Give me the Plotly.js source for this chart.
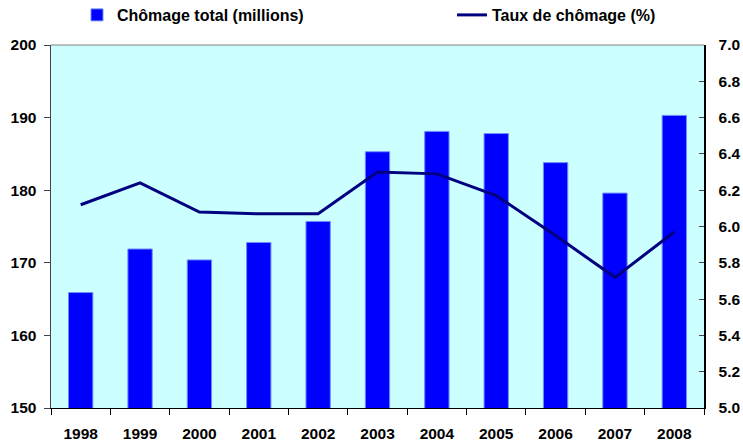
<!DOCTYPE html>
<html>
<head>
<meta charset="utf-8">
<script src="https://cdn.plot.ly/plotly-3.0.1.min.js"></script>
<style>html,body{margin:0;padding:0;background:#fff;}#chart{width:743px;height:446px;}</style>
</head>
<body>
<div id="chart"></div>
<script>
var years = ['1998','1999','2000','2001','2002','2003','2004','2005','2006','2007','2008'];
var chomageTotal = [165.9, 171.9, 170.4, 172.8, 175.7, 185.3, 188.1, 187.8, 183.8, 179.6, 190.3];
var tauxChomage = [6.12, 6.24, 6.08, 6.07, 6.07, 6.30, 6.29, 6.17, 5.95, 5.72, 5.97];
var leftTicks = [150, 160, 170, 180, 190, 200];
var rightTicks = [5.0, 5.2, 5.4, 5.6, 5.8, 6.0, 6.2, 6.4, 6.6, 6.8, 7.0];

var tickFont = {family: 'Liberation Sans, Arial, sans-serif', size: 15.5, color: '#000', weight: 700};
var legFont = {family: 'Liberation Sans, Arial, sans-serif', size: 16, color: '#000', weight: 700};

var traces = [
  {
    type: 'bar', name: 'Chômage total (millions)', x: years, y: chomageTotal,
    marker: {color: '#0000FF', line: {color: '#6F8CFF', width: 1}},
    width: 0.41, yaxis: 'y', legend: 'legend'
  },
  {
    type: 'scatter', mode: 'lines', name: 'Taux de chômage (%)', x: years, y: tauxChomage,
    line: {color: '#000080', width: 3}, yaxis: 'y2', legend: 'legend2'
  }
];

var layout = {
  width: 743, height: 446,
  margin: {l: 51, r: 39, t: 45, b: 38},
  paper_bgcolor: '#FFFFFF', plot_bgcolor: '#CCFFFF',
  showlegend: true,
  legend: {x: 77/743, xref: 'container', y: 1 - 15/446, yref: 'container', xanchor: 'left', yanchor: 'middle',
           orientation: 'h', font: legFont, bgcolor: 'rgba(0,0,0,0)'},
  legend2: {x: 452/743, xref: 'container', y: 1 - 15/446, yref: 'container', xanchor: 'left', yanchor: 'middle',
           orientation: 'h', font: legFont, bgcolor: 'rgba(0,0,0,0)'},
  xaxis: {
    type: 'category', tickfont: tickFont, showline: true, linecolor: '#000', linewidth: 1,
    ticks: 'outside', tickson: 'boundaries', ticklen: 6, tickcolor: '#000',
    showgrid: false, zeroline: false, ticklabelstandoff: 11
  },
  yaxis: {
    range: [150, 200], tickvals: leftTicks, ticktext: leftTicks.map(String),
    tickfont: tickFont, showline: true, linecolor: '#444', linewidth: 1.5,
    ticks: 'outside', ticklen: 6, tickcolor: '#444', showgrid: false, zeroline: false,
    ticklabelstandoff: 4
  },
  yaxis2: {
    range: [5, 7], overlaying: 'y', side: 'right', tickvals: rightTicks,
    ticktext: rightTicks.map(function(v){return v.toFixed(1);}),
    tickfont: tickFont, showline: true, linecolor: '#000', linewidth: 1.5,
    ticks: 'inside', ticklen: 5, tickcolor: '#444', showgrid: false, zeroline: false,
    ticklabelstandoff: 10
  },
  shapes: [
    {type: 'line', xref: 'paper', yref: 'paper', x0: 0, x1: 1, y0: 1, y1: 1, line: {color: '#808080', width: 1}}
  ]
};

Plotly.newPlot('chart', traces, layout, {displayModeBar: false, staticPlot: true});
</script>
</body>
</html>
